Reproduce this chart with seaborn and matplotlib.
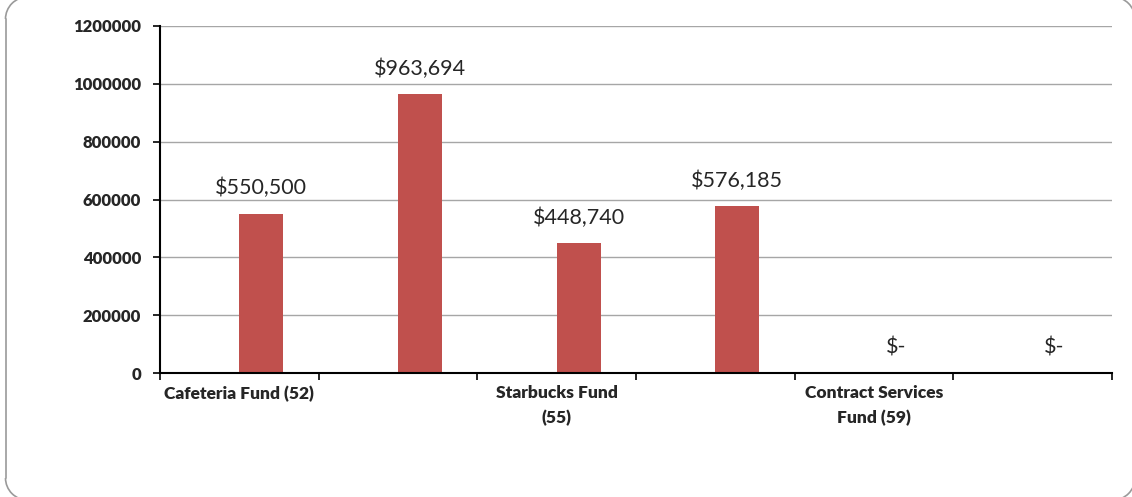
import matplotlib
matplotlib.use("Agg")
import matplotlib.pyplot as plt
import seaborn as sns
import pandas as pd
import numpy as np
from matplotlib.patches import Arc
from matplotlib.lines import Line2D
from matplotlib.transforms import IdentityTransform

# ---- data ----
slots = ["s1", "s2", "s3", "s4", "s5", "s6"]
tick_labels = ["Cafeteria Fund (52)", "", "Starbucks Fund\n(55)", "", "Contract Services\nFund (59)", ""]
values = [550500, 963694, 448740, 576185, 0, 0]
series_order = ["Blank", "Amount"]
y_ticks = [0, 200000, 400000, 600000, 800000, 1000000, 1200000]

df = pd.DataFrame({"slot": slots, "value": values, "series": ["Amount"] * len(slots)})

sns.set_theme(style="white")
plt.rcParams["font.family"] = ["Lato", "DejaVu Sans"]

fig = plt.figure(figsize=(11.32, 4.97), dpi=100)
ax = fig.add_axes([160 / 1132, 1 - 373 / 497, (1112 - 160) / 1132, (373 - 26) / 497])

sns.barplot(data=df, x="slot", y="value", hue="series", hue_order=series_order,
            order=slots, palette={"Blank": "#4F81BD", "Amount": "#C0504D"},
            width=0.554, dodge=True, errorbar=None, legend=False, ax=ax,
            saturation=1, linewidth=0)

ax.set_xlim(-0.5, len(slots) - 0.5)
ax.set_ylim(0, 1200000)
ax.set_yticks(y_ticks)
ax.set_yticklabels([str(v) for v in y_ticks], fontweight="heavy", fontsize=12)
ax.yaxis.grid(True, color="#A6A6A6", linewidth=1)
ax.set_axisbelow(True)

# category labels at slot centres, tick marks at slot boundaries
ax.set_xticks(range(len(slots)))
ax.set_xticklabels(tick_labels, fontweight="heavy", fontsize=12.5, linespacing=1.65)
ax.tick_params(axis="x", which="major", length=0, pad=9)
ax.set_xticks(np.arange(-0.5, len(slots), 1.0), minor=True)
ax.tick_params(axis="x", which="minor", length=5, width=1.2, color="black", direction="out", bottom=True)
ax.tick_params(axis="y", length=5, width=1.2, color="black", direction="out", left=True, pad=8.5)
ax.set_xlabel("")
ax.set_ylabel("")

for s in ["top", "right"]:
    ax.spines[s].set_visible(False)
for s in ["left", "bottom"]:
    ax.spines[s].set_color("black")
    ax.spines[s].set_linewidth(1.5)

def fmt(v):
    return "$-" if v == 0 else "${:,.0f}".format(v)

for cont in ax.containers:
    if len(cont) == len(slots):
        ax.bar_label(cont, labels=[fmt(v) for v in values], padding=11, fontsize=15.5)

# rounded chart border, drawn in pixel coordinates (mostly beyond the image except the left side)
bc = "#9A9A9A"
L, R, B, T, r = 5.5, 1135.0, -3.0, 500.0, 22.0
tr = IdentityTransform()
fig.add_artist(Line2D([L, L], [B + r, T - r], color=bc, lw=1.2, transform=tr))
fig.add_artist(Line2D([L + r, R - r], [T, T], color=bc, lw=1.2, transform=tr))
fig.add_artist(Line2D([L + r, R - r], [B, B], color=bc, lw=1.2, transform=tr))
fig.add_artist(Line2D([R, R], [B + r, T - r], color=bc, lw=1.2, transform=tr))
for cx, cy, a0, a1 in [(L + r, T - r, 90, 180), (L + r, B + r, 180, 270),
                       (R - r, B + r, 270, 360), (R - r, T - r, 0, 90)]:
    fig.add_artist(Arc((cx, cy), 2 * r, 2 * r, theta1=a0, theta2=a1,
                       color=bc, lw=1.2, transform=tr))

fig.savefig("out.png", dpi=100)
